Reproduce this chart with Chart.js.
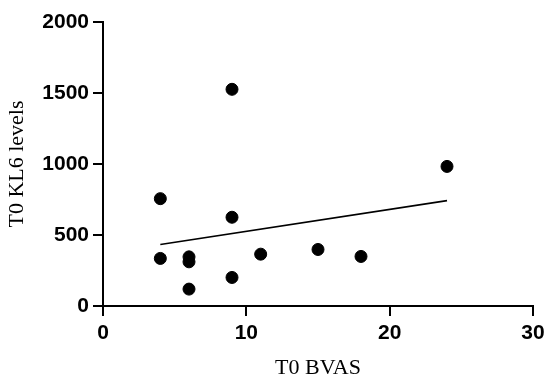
<!DOCTYPE html>
<html>
<head>
<meta charset="utf-8">
<script src="https://cdn.jsdelivr.net/npm/chart.js@4.4.1/dist/chart.umd.min.js"></script>
<style>
  html, body { margin: 0; padding: 0; background: #fff; }
  #wrap { width: 550px; height: 385px; }
</style>
</head>
<body>
<div id="wrap"><canvas id="scatter" width="550" height="385"></canvas></div>
<script>
// T0 BVAS vs T0 KL6 levels
const bvas = [4, 4, 6, 6, 6, 9, 9, 9, 11, 15, 18, 24];
const kl6 = [756, 335, 346, 311, 119, 1526, 625, 201, 365, 398, 349, 983];

// fitted line end points
const fitX = [4, 24];
const fitY = [433, 742];

const xTicks = [0, 10, 20, 30];
const yTicks = [0, 500, 1000, 1500, 2000];

const puntos = bvas.map((x, i) => ({ x: x, y: kl6[i] }));
const recta = fitX.map((x, i) => ({ x: x, y: fitY[i] }));

const tickFont = { family: '"Liberation Sans", Arial, sans-serif', size: 21, weight: 'bold' };
const titleFont = { family: '"Liberation Serif", "Times New Roman", serif', size: 22 };

new Chart(document.getElementById('scatter').getContext('2d'), {
  type: 'scatter',
  data: {
    datasets: [{
      data: puntos,
      backgroundColor: '#000',
      borderColor: '#000',
      pointRadius: 6,
      pointHoverRadius: 6
    }, {
      type: 'line',
      data: recta,
      borderColor: '#000',
      borderWidth: 1.6,
      pointRadius: 0,
      fill: false
    }]
  },
  options: {
    responsive: false,
    animation: false,
    layout: { padding: { left: 0, right: 17, top: 22, bottom: 0 } },
    plugins: { legend: { display: false }, tooltip: { enabled: false } },
    scales: {
      x: {
        type: 'linear',
        min: 0,
        max: 30,
        afterBuildTicks: s => { s.ticks = xTicks.map(v => ({ value: v })); },
        afterFit: s => { s.height = 79; },
        border: { display: true, color: '#000', width: 2 },
        grid: { drawOnChartArea: false, drawTicks: true, tickLength: 10, color: '#000', lineWidth: 2 },
        ticks: { color: '#000', font: tickFont, padding: 5, maxRotation: 0, callback: v => String(v) },
        title: { display: true, text: 'T0 BVAS', color: '#000', font: titleFont, padding: { top: 0, bottom: 4 } }
      },
      y: {
        type: 'linear',
        min: 0,
        max: 2000,
        afterBuildTicks: s => { s.ticks = yTicks.map(v => ({ value: v })); },
        afterFit: s => { s.width = 103; },
        border: { display: true, color: '#000', width: 2 },
        grid: { drawOnChartArea: false, drawTicks: true, tickLength: 10, color: '#000', lineWidth: 2 },
        ticks: { color: '#000', font: tickFont, padding: 4, callback: v => String(v) },
        title: { display: true, text: 'T0 KL6 levels', color: '#000', font: titleFont, padding: { top: 4, bottom: 0 } }
      }
    }
  }
});
</script>
</body>
</html>
